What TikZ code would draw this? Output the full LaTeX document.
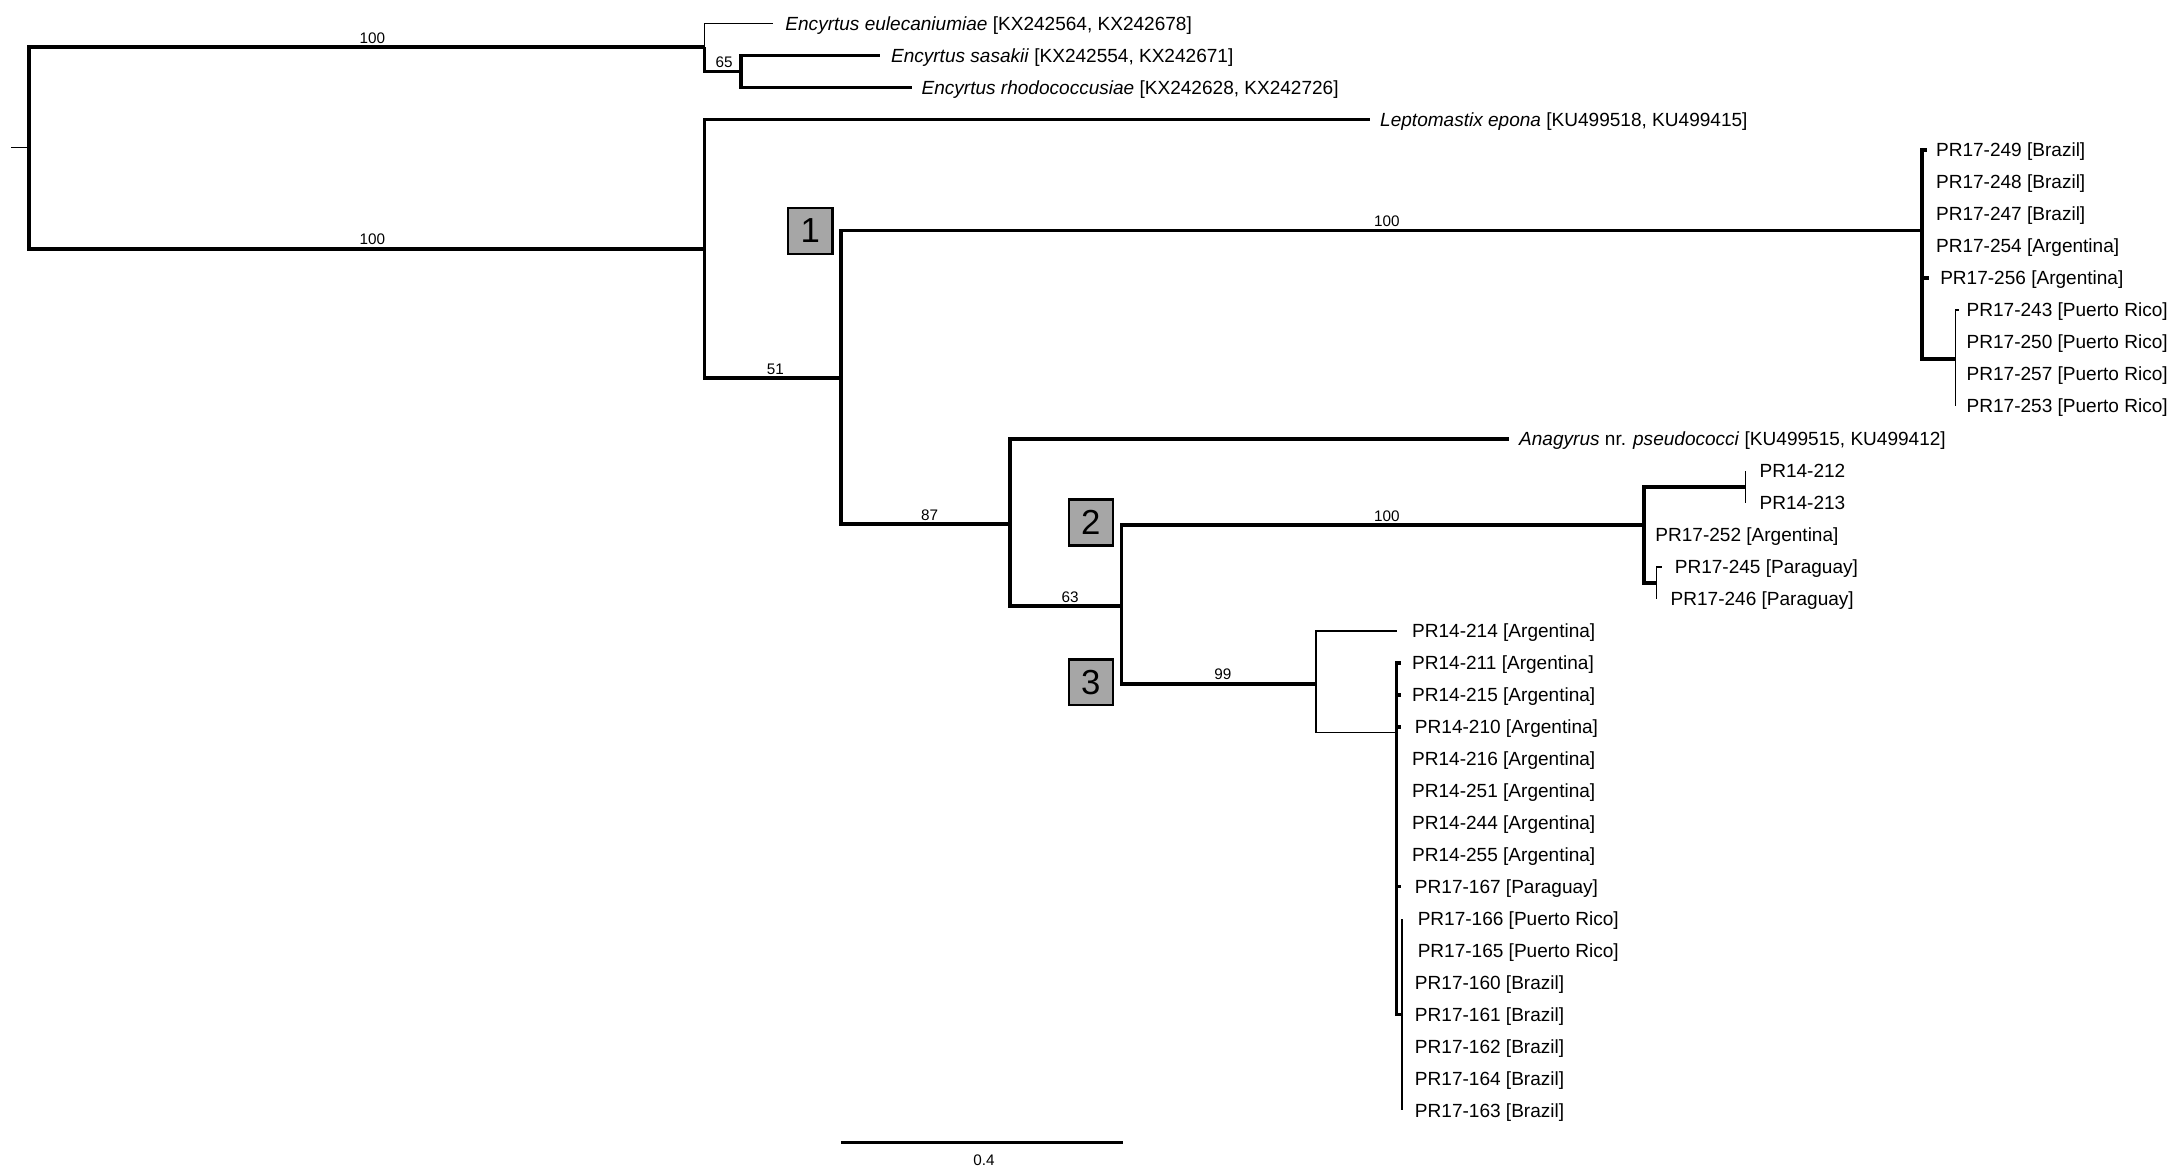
\documentclass[tikz,border=0pt]{standalone}
\usepackage{fontspec}
\setmainfont{Liberation Sans}
\usetikzlibrary{calc}
\newcommand\myleaf[5]{%
  \coordinate (#1) at (#2,#3);
  \node[leaflab] (#1t) at (#4,#3) {#5};}
\begin{document}
\begin{tikzpicture}[x=1pt,y=-1pt,
  thk/.style={line width=2.6pt,line join=miter},
  thn/.style={line width=1.1pt,line join=miter},
  leaflab/.style={anchor=base west,inner sep=0pt,yshift=-4.9pt,font=\fontsize{13.7}{14}\selectfont},
  blab/.style={anchor=south,inner sep=0pt,yshift=2.5pt,font=\fontsize{11}{12}\selectfont},
  cbox/.style={draw=black,line width=1.6pt,fill=black!35,minimum width=32pt,minimum height=33pt,inner sep=0pt,font=\fontsize{25}{25}\selectfont}]
\useasboundingbox (0,0) rectangle (1568,844);
% internal nodes
\coordinate (stub) at (8,106);
\coordinate (root) at (21,106);
\coordinate (nA) at (507,34);
\coordinate (n65) at (533,51.5);
\coordinate (nB) at (507,179);
\coordinate (n51) at (605,272);
\coordinate (c1) at (1383,166);
\coordinate (s1) at (1407,258.5);
\coordinate (n87) at (727,377);
\coordinate (n63) at (807,436);
\coordinate (c2) at (1183,378);
\coordinate (s212) at (1256,350.5);
\coordinate (s245) at (1192,419.5);
\coordinate (c3) at (947,492);
\coordinate (s3) at (1005,527);
\coordinate (s3b) at (1009,730);
% leaves
\myleaf{L1}{556}{17}{565}{\textit{Encyrtus eulecaniumiae} [KX242564, KX242678]}
\myleaf{L2}{633}{40}{641}{\textit{Encyrtus sasakii} [KX242554, KX242671]}
\myleaf{L3}{656}{63}{663}{\textit{Encyrtus rhodococcusiae} [KX242628, KX242726]}
\myleaf{L4}{986}{86}{993}{\textit{Leptomastix epona} [KU499518, KU499415]}
\myleaf{L5}{1387}{108}{1393}{PR17-249 [Brazil]}
\myleaf{L6}{1383}{131}{1393}{PR17-248 [Brazil]}
\myleaf{L7}{1383}{154}{1393}{PR17-247 [Brazil]}
\myleaf{L8}{1383}{177}{1393}{PR17-254 [Argentina]}
\myleaf{L9}{1388}{200}{1396}{PR17-256 [Argentina]}
\myleaf{L10}{1410}{223}{1415}{PR17-243 [Puerto Rico]}
\myleaf{L11}{1407}{246}{1415}{PR17-250 [Puerto Rico]}
\myleaf{L12}{1407}{269}{1415}{PR17-257 [Puerto Rico]}
\myleaf{L13}{1407}{292}{1415}{PR17-253 [Puerto Rico]}
\myleaf{L14}{1086}{316}{1093}{\textit{Anagyrus} nr. \textit{pseudococci} [KU499515, KU499412]}
\myleaf{L15}{1256}{339}{1266}{PR14-212}
\myleaf{L16}{1256}{362}{1266}{PR14-213}
\myleaf{L17}{1183}{385}{1191}{PR17-252 [Argentina]}
\myleaf{L18}{1196}{408}{1205}{PR17-245 [Paraguay]}
\myleaf{L19}{1192}{431}{1202}{PR17-246 [Paraguay]}
\myleaf{L20}{1005}{454}{1016}{PR14-214 [Argentina]}
\myleaf{L21}{1008}{477}{1016}{PR14-211 [Argentina]}
\myleaf{L22}{1008}{500}{1016}{PR14-215 [Argentina]}
\myleaf{L23}{1008}{523}{1018}{PR14-210 [Argentina]}
\myleaf{L24}{1005}{546}{1016}{PR14-216 [Argentina]}
\myleaf{L25}{1005}{569}{1016}{PR14-251 [Argentina]}
\myleaf{L26}{1005}{592}{1016}{PR14-244 [Argentina]}
\myleaf{L27}{1005}{615}{1016}{PR14-255 [Argentina]}
\myleaf{L28}{1008}{638}{1018}{PR17-167 [Paraguay]}
\myleaf{L29}{1009}{661}{1020}{PR17-166 [Puerto Rico]}
\myleaf{L30}{1009}{684}{1020}{PR17-165 [Puerto Rico]}
\myleaf{L31}{1009}{707}{1018}{PR17-160 [Brazil]}
\myleaf{L32}{1009}{730}{1018}{PR17-161 [Brazil]}
\myleaf{L33}{1009}{753}{1018}{PR17-162 [Brazil]}
\myleaf{L34}{1009}{776}{1018}{PR17-164 [Brazil]}
\myleaf{L35}{1009}{799}{1018}{PR17-163 [Brazil]}
% branches
\draw[thn] (stub) -- (root);
\draw[thk] (root) |- (nA);
\draw[thk] (root) |- (nB);
\draw[thn] (nA) |- (L1);
\draw[thk] (nA) |- (n65);
\draw[thk] (n65) |- (L2);
\draw[thk] (n65) |- (L3);
\draw[thk] (nB) |- (L4);
\draw[thk] (nB) |- (n51);
\draw[thk] (n51) |- (c1);
\draw[thk] (n51) |- (n87);
\foreach \l in {L5,L6,L7,L8,L9} \draw[thk] (c1) |- (\l);
\draw[thk] (c1) |- (s1);
\foreach \l in {L10,L11,L12,L13} \draw[thn] (s1) |- (\l);
\draw[thk] (n87) |- (L14);
\draw[thk] (n87) |- (n63);
\draw[thk] (n63) |- (c2);
\draw[thk] (n63) |- (c3);
\draw[thk] (c2) |- (s212);
\draw[thk] (c2) |- (L17);
\draw[thk] (c2) |- (s245);
\foreach \l in {L15,L16} \draw[thn] (s212) |- (\l);
\foreach \l in {L18,L19} \draw[thn] (s245) |- (\l);
\draw[thn] (c3) |- (L20);
\draw[thn] (c3) |- (s3);
\foreach \l in {L21,L22,L23,L24,L25,L26,L27,L28} \draw[thk] (s3) |- (\l);
\draw[thk] (s3) |- (s3b);
\foreach \l in {L29,L30,L31,L32,L33,L34,L35} \draw[line width=1.8pt] (s3b) |- (\l);
% support values
\node[blab] (b1) at (268,34) {100};
\node[blab] (b2) at (268,179) {100};
\node[blab] (b3) at (521,51.5) {65};
\node[blab] (b4) at (558,272) {51};
\node[blab] (b5) at (669,377) {87};
\node[blab] (b6) at (770,436) {63};
\node[blab] (b7) at (998,166) {100};
\node[blab] (b8) at (998,378) {100};
\node[blab] (b9) at (880,492) {99};
% clade boxes
\node[cbox] (box1) at (583,166) {1};
\node[cbox] (box2) at (785,376) {2};
\node[cbox] (box3) at (785,491) {3};
% scale bar
\coordinate (sb1) at (605,822);
\coordinate (sb2) at (808,822);
\draw[line width=2.2pt] (sb1) -- (sb2);
\node[font=\fontsize{11}{12}\selectfont,inner sep=0pt] (sbl) at (708,835) {0.4};
\end{tikzpicture}
\end{document}
